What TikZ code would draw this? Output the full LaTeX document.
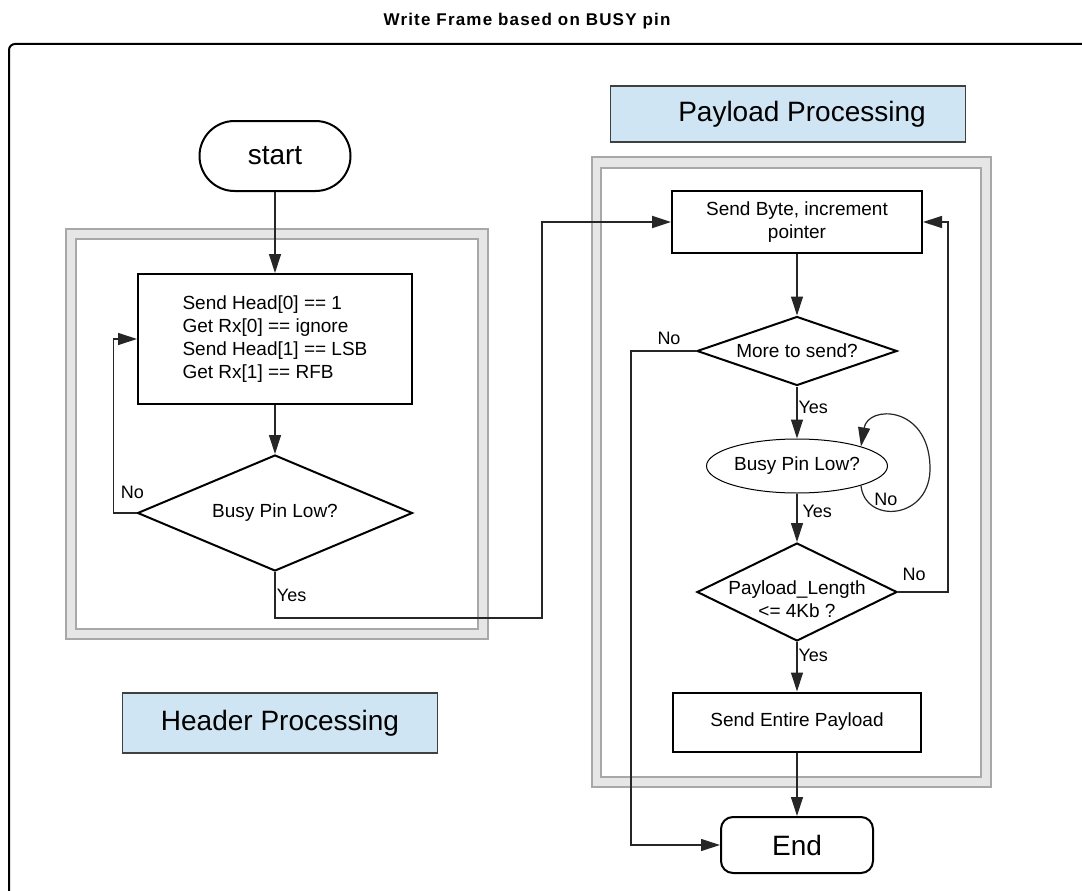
\documentclass[tikz,border=0pt]{standalone}
\usepackage{fontspec}
\setmainfont{Liberation Sans}
\newfontfamily\titlefont[LetterSpace=7]{Liberation Sans}
\usepackage{xcolor}
\usepackage{tikz}
\usetikzlibrary{shapes.geometric, arrows.meta, positioning}

\definecolor{tagblue}{HTML}{D0E5F3}
\definecolor{bandgray}{HTML}{E6E6E6}
\definecolor{edgegray}{HTML}{A8A8A8}

\begin{document}
\begin{tikzpicture}[x=1pt, y=-1pt,
            terminal/.style={draw, line width=2pt, minimum width=151pt, minimum height=70pt, rounded corners=35pt, font=\fontsize{28}{32}\selectfont},
            process/.style={draw, line width=2pt, font=\fontsize{19}{23}\selectfont, align=center},
            decision/.style={draw, diamond, line width=2pt, inner sep=0pt, font=\fontsize{19}{23}\selectfont, align=center},
            busy/.style={draw, ellipse, line width=1pt, minimum width=181pt, minimum height=54pt, inner sep=0pt, font=\fontsize{19}{23}\selectfont},
            caption/.style={draw=black!75, fill=tagblue, line width=1.2pt, font=\fontsize{28}{32}\selectfont},
            flow/.style={line width=1.2pt, draw=black!85, -{Triangle[length=19pt, width=12pt]}},
            answer/.style={font=\fontsize{18}{20}\selectfont, inner sep=1pt},
            band/.style={draw=edgegray, fill=bandgray, line width=1.2pt},
            bandin/.style={draw=edgegray, fill=white, line width=1.2pt}
        ]
        \useasboundingbox (0,0) rectangle (1082,891);

        % Frame and title
        \draw[line width=2pt, rounded corners=6pt] (1082,44) -- (9,44) -- (9,891);
        \node[font=\titlefont\bfseries\fontsize{17}{20}\selectfont] (title) at (527,21) {Write Frame based on BUSY pin};

        % Group boxes
        \draw[band] (66,229) rectangle (488,639);
        \draw[bandin] (76,239) rectangle (478,629);
        \draw[band] (592,157) rectangle (991,787);
        \draw[bandin] (601,168) rectangle (981,777);

        % Nodes (header side)
        \node[terminal] (start) at (275,156) {start};
        \node[process, minimum width=274pt, minimum height=130pt, align=left] (head) at (275,339) {Send Head[0] == 1\\Get Rx[0] == ignore\\Send Head[1] == LSB\\Get Rx[1] == RFB};
        \node[decision, aspect=2.37, minimum width=275pt, minimum height=116pt] (busyA) at (275,513) {Busy Pin Low?};
        \node[caption, minimum width=315pt, minimum height=60pt] (hdr) at (280,723) {Header Processing};

        % Nodes (payload side)
        \node[caption, minimum width=355pt, minimum height=56pt] (pld) at (788,114) {\hspace*{28pt}Payload Processing};
        \node[process, minimum width=250pt, minimum height=62pt] (sendbyte) at (797,222) {Send Byte, increment\\pointer};
        \node[decision, aspect=2.9, minimum width=200pt, minimum height=69pt] (more) at (797,351) {More to send?};
        \node[busy] (busyB) at (797,466) {Busy Pin Low?};
        \node[decision, aspect=2.5, inner xsep=-5pt, inner ysep=-20pt, minimum width=200pt, minimum height=98pt] (len) at (797,592) {\rule{0pt}{28pt}Payload\_Length\\<= 4Kb ?};
        \node[process, minimum width=248pt, minimum height=59pt] (sendall) at (797,722) {Send Entire Payload};
        \node[terminal, minimum width=152pt, minimum height=56pt, rounded corners=12pt] (stop) at (797,845) {End};

        % Edges
        \coordinate (jog) at (542,618);

        \draw[flow] (start) -- (head);
        \draw[flow] (head) -- (busyA);
        \draw[flow] (busyA.west) -- node[answer, above, xshift=7.5pt, yshift=12.5pt] {No} ++(-23,0) |- (head.west);
        \draw[flow, line width=1.8pt] (busyA.south) |- node[answer, right, pos=0.25] {Yes} (jog) |- (sendbyte.west);

        \draw[flow] (sendbyte) -- (more);
        \draw[flow] (more.west) -- node[answer, above, xshift=5.5pt, yshift=4.5pt] {No} ++(-65,0) |- (stop.west);
        \draw[flow] (more) -- node[answer, right, yshift=5.5pt] {Yes} (busyB);

        \draw[flow] (busyB.-17) .. controls (865,525) and (932,520) .. node[answer, pos=0.25, above right, inner sep=0pt] {No} (930,466)
            .. controls (928,405) and (868,405) .. (busyB.17);
        \draw[flow] (busyB) -- node[answer, right, xshift=4pt, yshift=6pt] {Yes} (len);

        \draw[flow] (len.east) -- node[answer, above, xshift=-9pt, yshift=9.5pt] {No} ++(50,0) |- (sendbyte.east);
        \draw[flow] (len) -- node[answer, right, yshift=11pt] {Yes} (sendall);
        \draw[flow] (sendall) -- (stop);

    \end{tikzpicture}
\end{document}
